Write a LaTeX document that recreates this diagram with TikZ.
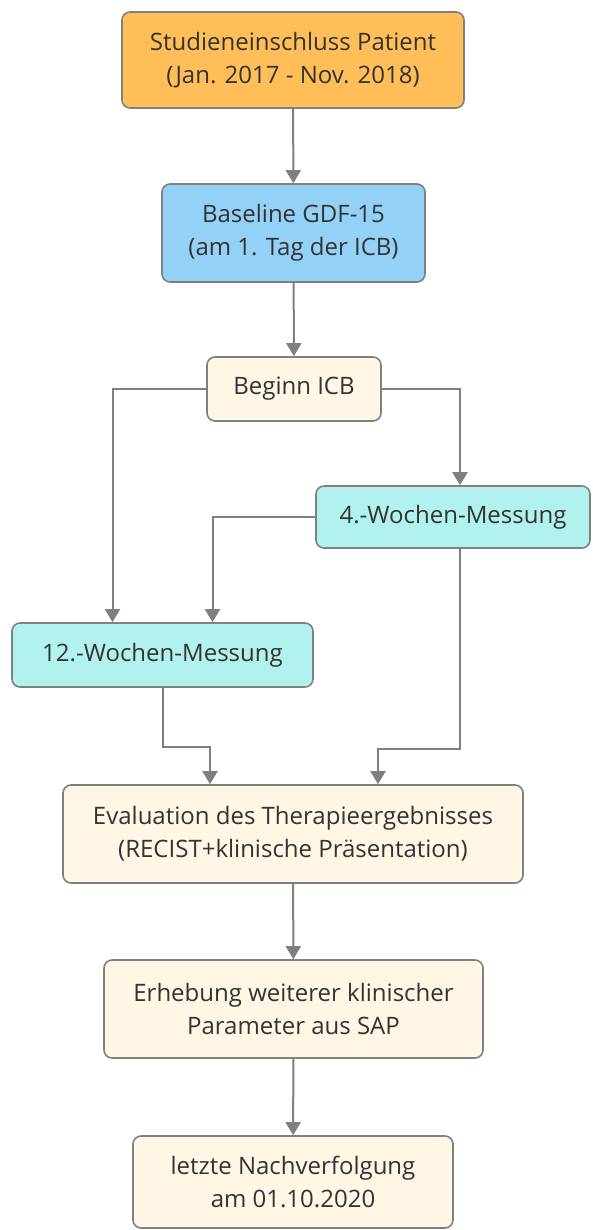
\documentclass[tikz,border=0pt]{standalone}
\usepackage{fontspec}
\setmainfont{Open Sans}
\usetikzlibrary{arrows.meta}

\colorlet{linie}{black!50}
\definecolor{orange1}{HTML}{FFBE57}
\definecolor{blau1}{HTML}{94D1F6}
\definecolor{tuerkis1}{HTML}{B1F2EE}
\definecolor{creme1}{HTML}{FFF6E6}
\definecolor{schrift}{HTML}{333333}

\tikzset{
  kasten/.style = {draw = linie, line width = 1.6pt, rounded corners = 8pt,
    align = center, text = schrift, inner sep = 2pt,
    font = \fontsize{24}{33}\selectfont},
  pfeil/.style = {draw = linie, line width = 2pt,
    -{Triangle[width = 15pt, length = 13pt]}}
}

\begin{document}
\begin{tikzpicture}[x = 1pt, y = -1pt]
  \useasboundingbox (0,0) rectangle (592,1230);

  % Kaesten
  \node[kasten, fill = orange1, minimum width = 342, minimum height = 96] (einschluss) at (293,60)
    {Studieneinschluss Patient\\(Jan. 2017 - Nov. 2018)};
  \node[kasten, fill = blau1, minimum width = 263, minimum height = 98] (baseline) at (293.5,233)
    {Baseline GDF-15\\(am 1. Tag der ICB)};
  \node[kasten, fill = creme1, minimum width = 174, minimum height = 64] (beginn) at (294,389)
    {Beginn ICB};
  \node[kasten, fill = tuerkis1, minimum width = 274, minimum height = 62] (vier) at (453,517)
    {4.-Wochen-Messung};
  \node[kasten, fill = tuerkis1, minimum width = 301, minimum height = 64] (zwoelf) at (162.5,655)
    {12.-Wochen-Messung};
  \node[kasten, fill = creme1, minimum width = 460, minimum height = 98] (eval) at (293,834)
    {Evaluation des Therapieergebnisses\\(RECIST+klinische Präsentation)};
  \node[kasten, fill = creme1, minimum width = 379, minimum height = 98] (erhebung) at (293.5,1009)
    {Erhebung weiterer klinischer\\Parameter aus SAP};
  \node[kasten, fill = creme1, minimum width = 320, minimum height = 92] (letzte) at (293,1182)
    {letzte Nachverfolgung\\am 01.10.2020};

  % Verbindungen
  \draw[pfeil] (einschluss) -- (baseline);
  \draw[pfeil] (baseline) -- (beginn);
  \draw[pfeil] (beginn.west) -| ([xshift = -50pt]zwoelf.north);
  \draw[pfeil] (beginn.east) -| ([xshift = 7pt]vier.north);
  \draw[pfeil] (vier.west) -| ([xshift = 50pt]zwoelf.north);
  \draw[pfeil] (zwoelf.south) -- ++(0,59) -| ([xshift = -83pt]eval.north);
  \draw[pfeil] ([xshift = 7pt]vier.south) -- ++(0,200) -| ([xshift = 85pt]eval.north);
  \draw[pfeil] (eval) -- (erhebung);
  \draw[pfeil] (erhebung) -- (letzte);
\end{tikzpicture}
\end{document}
